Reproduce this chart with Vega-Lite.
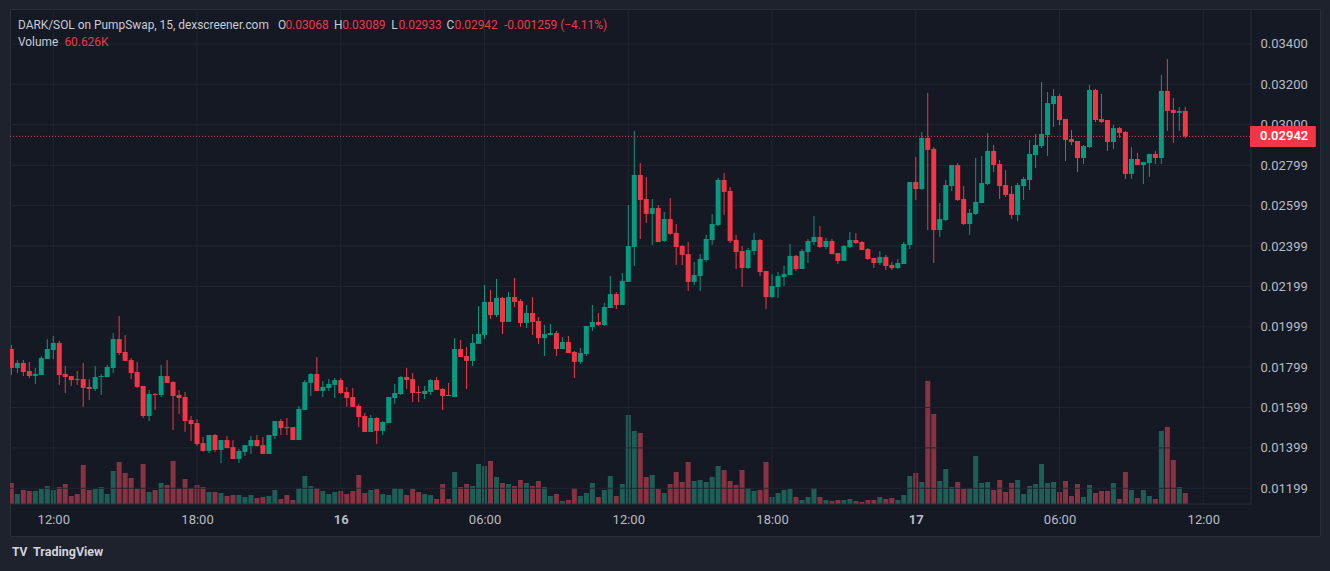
{
  "$schema": "https://vega.github.io/schema/vega-lite/v6.json",
  "width": 1310,
  "height": 527,
  "autosize": {"type": "none"},
  "padding": {"left": 10, "top": 9, "right": 10, "bottom": 35},
  "background": "#1e222d",
  "config": {
    "font": "Roboto",
    "view": {"fill": "#151924", "stroke": "#2a2e39", "strokeWidth": 1}
  },
  "resolve": {"scale": {"y": "independent"}},
  "datasets": {
    "candles": [
      {"t":"2025-06-15T10:15","o":0.01889,"h":0.01909,"l":0.01760,"c":0.01795,"v":115.5},
      {"t":"2025-06-15T10:30","o":0.01795,"h":0.01834,"l":0.01770,"c":0.01820,"v":55},
      {"t":"2025-06-15T10:45","o":0.01820,"h":0.01834,"l":0.01755,"c":0.01775,"v":77},
      {"t":"2025-06-15T11:00","o":0.01780,"h":0.01825,"l":0.01745,"c":0.01755,"v":71.5},
      {"t":"2025-06-15T11:15","o":0.01755,"h":0.01795,"l":0.01716,"c":0.01765,"v":71.5},
      {"t":"2025-06-15T11:30","o":0.01760,"h":0.01854,"l":0.01760,"c":0.01844,"v":82.5},
      {"t":"2025-06-15T11:45","o":0.01839,"h":0.01938,"l":0.01839,"c":0.01889,"v":99},
      {"t":"2025-06-15T12:00","o":0.01884,"h":0.01953,"l":0.01839,"c":0.01919,"v":77},
      {"t":"2025-06-15T12:15","o":0.01919,"h":0.01929,"l":0.01711,"c":0.01760,"v":93.5},
      {"t":"2025-06-15T12:30","o":0.01765,"h":0.01805,"l":0.01671,"c":0.01750,"v":110},
      {"t":"2025-06-15T12:45","o":0.01755,"h":0.01755,"l":0.01706,"c":0.01735,"v":44},
      {"t":"2025-06-15T13:00","o":0.01740,"h":0.01780,"l":0.01711,"c":0.01735,"v":55},
      {"t":"2025-06-15T13:15","o":0.01740,"h":0.01820,"l":0.01602,"c":0.01696,"v":214.5},
      {"t":"2025-06-15T13:30","o":0.01701,"h":0.01740,"l":0.01636,"c":0.01691,"v":77},
      {"t":"2025-06-15T13:45","o":0.01691,"h":0.01805,"l":0.01681,"c":0.01750,"v":82.5},
      {"t":"2025-06-15T14:00","o":0.01750,"h":0.01765,"l":0.01661,"c":0.01755,"v":93.5},
      {"t":"2025-06-15T14:15","o":0.01750,"h":0.01810,"l":0.01750,"c":0.01800,"v":55},
      {"t":"2025-06-15T14:30","o":0.01795,"h":0.01968,"l":0.01770,"c":0.01938,"v":181.5},
      {"t":"2025-06-15T14:45","o":0.01938,"h":0.02052,"l":0.01859,"c":0.01869,"v":231},
      {"t":"2025-06-15T15:00","o":0.01874,"h":0.01958,"l":0.01830,"c":0.01830,"v":170.5},
      {"t":"2025-06-15T15:15","o":0.01834,"h":0.01844,"l":0.01740,"c":0.01770,"v":143},
      {"t":"2025-06-15T15:30","o":0.01775,"h":0.01825,"l":0.01696,"c":0.01701,"v":82.5},
      {"t":"2025-06-15T15:45","o":0.01706,"h":0.01706,"l":0.01547,"c":0.01557,"v":220},
      {"t":"2025-06-15T16:00","o":0.01557,"h":0.01686,"l":0.01532,"c":0.01666,"v":66},
      {"t":"2025-06-15T16:15","o":0.01666,"h":0.01671,"l":0.01587,"c":0.01661,"v":77},
      {"t":"2025-06-15T16:30","o":0.01661,"h":0.01810,"l":0.01651,"c":0.01755,"v":115.5},
      {"t":"2025-06-15T16:45","o":0.01755,"h":0.01834,"l":0.01721,"c":0.01721,"v":104.5},
      {"t":"2025-06-15T17:00","o":0.01725,"h":0.01730,"l":0.01488,"c":0.01656,"v":236.5},
      {"t":"2025-06-15T17:15","o":0.01661,"h":0.01686,"l":0.01567,"c":0.01646,"v":82.5},
      {"t":"2025-06-15T17:30","o":0.01651,"h":0.01676,"l":0.01478,"c":0.01532,"v":137.5},
      {"t":"2025-06-15T17:45","o":0.01537,"h":0.01557,"l":0.01433,"c":0.01517,"v":88},
      {"t":"2025-06-15T18:00","o":0.01522,"h":0.01542,"l":0.01409,"c":0.01418,"v":104.5},
      {"t":"2025-06-15T18:15","o":0.01423,"h":0.01453,"l":0.01379,"c":0.01384,"v":93.5},
      {"t":"2025-06-15T18:30","o":0.01384,"h":0.01463,"l":0.01374,"c":0.01463,"v":66},
      {"t":"2025-06-15T18:45","o":0.01463,"h":0.01468,"l":0.01379,"c":0.01389,"v":66},
      {"t":"2025-06-15T19:00","o":0.01389,"h":0.01438,"l":0.01324,"c":0.01438,"v":60.5},
      {"t":"2025-06-15T19:15","o":0.01438,"h":0.01458,"l":0.01398,"c":0.01398,"v":44},
      {"t":"2025-06-15T19:30","o":0.01403,"h":0.01438,"l":0.01344,"c":0.01344,"v":49.5},
      {"t":"2025-06-15T19:45","o":0.01344,"h":0.01394,"l":0.01324,"c":0.01384,"v":49.5},
      {"t":"2025-06-15T20:00","o":0.01379,"h":0.01413,"l":0.01359,"c":0.01413,"v":38.5},
      {"t":"2025-06-15T20:15","o":0.01408,"h":0.01458,"l":0.01369,"c":0.01438,"v":49.5},
      {"t":"2025-06-15T20:30","o":0.01438,"h":0.01463,"l":0.01408,"c":0.01408,"v":33},
      {"t":"2025-06-15T20:45","o":0.01413,"h":0.01453,"l":0.01369,"c":0.01369,"v":38.5},
      {"t":"2025-06-15T21:00","o":0.01369,"h":0.01463,"l":0.01369,"c":0.01463,"v":44},
      {"t":"2025-06-15T21:15","o":0.01458,"h":0.01532,"l":0.01443,"c":0.01532,"v":77},
      {"t":"2025-06-15T21:30","o":0.01532,"h":0.01542,"l":0.01463,"c":0.01497,"v":27.5},
      {"t":"2025-06-15T21:45","o":0.01502,"h":0.01547,"l":0.01463,"c":0.01497,"v":49.5},
      {"t":"2025-06-15T22:00","o":0.01502,"h":0.01502,"l":0.01438,"c":0.01438,"v":22},
      {"t":"2025-06-15T22:15","o":0.01438,"h":0.01607,"l":0.01438,"c":0.01592,"v":88},
      {"t":"2025-06-15T22:30","o":0.01587,"h":0.01735,"l":0.01587,"c":0.01725,"v":154},
      {"t":"2025-06-15T22:45","o":0.01721,"h":0.01770,"l":0.01656,"c":0.01765,"v":99},
      {"t":"2025-06-15T23:00","o":0.01765,"h":0.01849,"l":0.01681,"c":0.01681,"v":88},
      {"t":"2025-06-15T23:15","o":0.01681,"h":0.01730,"l":0.01651,"c":0.01701,"v":71.5},
      {"t":"2025-06-15T23:30","o":0.01696,"h":0.01740,"l":0.01681,"c":0.01716,"v":55},
      {"t":"2025-06-15T23:45","o":0.01711,"h":0.01745,"l":0.01646,"c":0.01735,"v":66},
      {"t":"2025-06-16T00:00","o":0.01735,"h":0.01745,"l":0.01666,"c":0.01671,"v":71.5},
      {"t":"2025-06-16T00:15","o":0.01676,"h":0.01701,"l":0.01602,"c":0.01646,"v":55},
      {"t":"2025-06-16T00:30","o":0.01651,"h":0.01696,"l":0.01602,"c":0.01602,"v":71.5},
      {"t":"2025-06-16T00:45","o":0.01607,"h":0.01617,"l":0.01502,"c":0.01552,"v":159.5},
      {"t":"2025-06-16T01:00","o":0.01557,"h":0.01572,"l":0.01478,"c":0.01478,"v":60.5},
      {"t":"2025-06-16T01:15","o":0.01478,"h":0.01562,"l":0.01478,"c":0.01547,"v":77},
      {"t":"2025-06-16T01:30","o":0.01547,"h":0.01552,"l":0.01418,"c":0.01483,"v":82.5},
      {"t":"2025-06-16T01:45","o":0.01483,"h":0.01532,"l":0.01463,"c":0.01527,"v":55},
      {"t":"2025-06-16T02:00","o":0.01522,"h":0.01651,"l":0.01522,"c":0.01651,"v":49.5},
      {"t":"2025-06-16T02:15","o":0.01646,"h":0.01716,"l":0.01617,"c":0.01671,"v":88},
      {"t":"2025-06-16T02:30","o":0.01666,"h":0.01755,"l":0.01661,"c":0.01750,"v":82.5},
      {"t":"2025-06-16T02:45","o":0.01750,"h":0.01795,"l":0.01691,"c":0.01735,"v":49.5},
      {"t":"2025-06-16T03:00","o":0.01740,"h":0.01770,"l":0.01626,"c":0.01671,"v":82.5},
      {"t":"2025-06-16T03:15","o":0.01676,"h":0.01706,"l":0.01626,"c":0.01671,"v":66},
      {"t":"2025-06-16T03:30","o":0.01666,"h":0.01706,"l":0.01641,"c":0.01681,"v":55},
      {"t":"2025-06-16T03:45","o":0.01676,"h":0.01740,"l":0.01661,"c":0.01735,"v":49.5},
      {"t":"2025-06-16T04:00","o":0.01735,"h":0.01750,"l":0.01686,"c":0.01686,"v":27.5},
      {"t":"2025-06-16T04:15","o":0.01691,"h":0.01696,"l":0.01587,"c":0.01656,"v":110},
      {"t":"2025-06-16T04:30","o":0.01661,"h":0.01721,"l":0.01656,"c":0.01656,"v":27.5},
      {"t":"2025-06-16T04:45","o":0.01651,"h":0.01943,"l":0.01651,"c":0.01889,"v":176},
      {"t":"2025-06-16T05:00","o":0.01889,"h":0.01934,"l":0.01849,"c":0.01849,"v":93.5},
      {"t":"2025-06-16T05:15","o":0.01854,"h":0.01899,"l":0.01691,"c":0.01830,"v":110},
      {"t":"2025-06-16T05:30","o":0.01830,"h":0.01963,"l":0.01805,"c":0.01919,"v":99},
      {"t":"2025-06-16T05:45","o":0.01914,"h":0.02102,"l":0.01914,"c":0.01963,"v":220},
      {"t":"2025-06-16T06:00","o":0.01958,"h":0.02206,"l":0.01938,"c":0.02122,"v":209},
      {"t":"2025-06-16T06:15","o":0.02122,"h":0.02181,"l":0.02037,"c":0.02057,"v":236.5},
      {"t":"2025-06-16T06:30","o":0.02057,"h":0.02236,"l":0.02047,"c":0.02142,"v":148.5},
      {"t":"2025-06-16T06:45","o":0.02142,"h":0.02146,"l":0.01963,"c":0.02023,"v":115.5},
      {"t":"2025-06-16T07:00","o":0.02023,"h":0.02171,"l":0.02023,"c":0.02146,"v":110},
      {"t":"2025-06-16T07:15","o":0.02146,"h":0.02241,"l":0.02097,"c":0.02122,"v":99},
      {"t":"2025-06-16T07:30","o":0.02127,"h":0.02137,"l":0.01998,"c":0.02018,"v":132},
      {"t":"2025-06-16T07:45","o":0.02018,"h":0.02107,"l":0.01993,"c":0.02067,"v":115.5},
      {"t":"2025-06-16T08:00","o":0.02067,"h":0.02146,"l":0.01958,"c":0.02023,"v":99},
      {"t":"2025-06-16T08:15","o":0.02028,"h":0.02047,"l":0.01914,"c":0.01943,"v":126.5},
      {"t":"2025-06-16T08:30","o":0.01943,"h":0.02008,"l":0.01854,"c":0.01963,"v":93.5},
      {"t":"2025-06-16T08:45","o":0.01958,"h":0.02013,"l":0.01958,"c":0.01968,"v":44},
      {"t":"2025-06-16T09:00","o":0.01968,"h":0.01978,"l":0.01854,"c":0.01889,"v":55},
      {"t":"2025-06-16T09:15","o":0.01889,"h":0.01948,"l":0.01889,"c":0.01924,"v":16.5},
      {"t":"2025-06-16T09:30","o":0.01924,"h":0.01953,"l":0.01869,"c":0.01869,"v":22},
      {"t":"2025-06-16T09:45","o":0.01874,"h":0.01879,"l":0.01745,"c":0.01825,"v":88},
      {"t":"2025-06-16T10:00","o":0.01825,"h":0.01894,"l":0.01815,"c":0.01869,"v":44},
      {"t":"2025-06-16T10:15","o":0.01864,"h":0.02003,"l":0.01854,"c":0.02003,"v":60.5},
      {"t":"2025-06-16T10:30","o":0.01998,"h":0.02107,"l":0.01978,"c":0.02023,"v":115.5},
      {"t":"2025-06-16T10:45","o":0.02023,"h":0.02067,"l":0.02003,"c":0.02008,"v":38.5},
      {"t":"2025-06-16T11:00","o":0.02008,"h":0.02117,"l":0.02003,"c":0.02097,"v":77},
      {"t":"2025-06-16T11:15","o":0.02092,"h":0.02251,"l":0.02092,"c":0.02161,"v":154},
      {"t":"2025-06-16T11:30","o":0.02161,"h":0.02171,"l":0.02087,"c":0.02107,"v":44},
      {"t":"2025-06-16T11:45","o":0.02107,"h":0.02265,"l":0.02107,"c":0.02226,"v":110},
      {"t":"2025-06-16T12:00","o":0.02221,"h":0.02602,"l":0.02221,"c":0.02399,"v":489.5},
      {"t":"2025-06-16T12:15","o":0.02394,"h":0.02969,"l":0.02300,"c":0.02751,"v":401.5},
      {"t":"2025-06-16T12:30","o":0.02751,"h":0.02810,"l":0.02434,"c":0.02627,"v":390.5},
      {"t":"2025-06-16T12:45","o":0.02632,"h":0.02741,"l":0.02513,"c":0.02558,"v":148.5},
      {"t":"2025-06-16T13:00","o":0.02558,"h":0.02632,"l":0.02404,"c":0.02587,"v":159.5},
      {"t":"2025-06-16T13:15","o":0.02587,"h":0.02602,"l":0.02419,"c":0.02419,"v":82.5},
      {"t":"2025-06-16T13:30","o":0.02424,"h":0.02568,"l":0.02419,"c":0.02533,"v":60.5},
      {"t":"2025-06-16T13:45","o":0.02533,"h":0.02637,"l":0.02454,"c":0.02459,"v":110},
      {"t":"2025-06-16T14:00","o":0.02464,"h":0.02508,"l":0.02305,"c":0.02394,"v":176},
      {"t":"2025-06-16T14:15","o":0.02399,"h":0.02404,"l":0.02305,"c":0.02355,"v":121},
      {"t":"2025-06-16T14:30","o":0.02359,"h":0.02419,"l":0.02176,"c":0.02221,"v":231},
      {"t":"2025-06-16T14:45","o":0.02221,"h":0.02320,"l":0.02206,"c":0.02255,"v":126.5},
      {"t":"2025-06-16T15:00","o":0.02250,"h":0.02359,"l":0.02176,"c":0.02335,"v":132},
      {"t":"2025-06-16T15:15","o":0.02330,"h":0.02454,"l":0.02320,"c":0.02434,"v":121},
      {"t":"2025-06-16T15:30","o":0.02429,"h":0.02558,"l":0.02404,"c":0.02508,"v":148.5},
      {"t":"2025-06-16T15:45","o":0.02503,"h":0.02736,"l":0.02498,"c":0.02726,"v":209},
      {"t":"2025-06-16T16:00","o":0.02726,"h":0.02761,"l":0.02553,"c":0.02667,"v":187},
      {"t":"2025-06-16T16:15","o":0.02672,"h":0.02691,"l":0.02414,"c":0.02424,"v":126.5},
      {"t":"2025-06-16T16:30","o":0.02429,"h":0.02454,"l":0.02285,"c":0.02369,"v":104.5},
      {"t":"2025-06-16T16:45","o":0.02374,"h":0.02399,"l":0.02196,"c":0.02290,"v":187},
      {"t":"2025-06-16T17:00","o":0.02290,"h":0.02389,"l":0.02285,"c":0.02379,"v":88},
      {"t":"2025-06-16T17:15","o":0.02374,"h":0.02464,"l":0.02355,"c":0.02429,"v":71.5},
      {"t":"2025-06-16T17:30","o":0.02429,"h":0.02434,"l":0.02250,"c":0.02270,"v":77},
      {"t":"2025-06-16T17:45","o":0.02275,"h":0.02275,"l":0.02087,"c":0.02146,"v":231},
      {"t":"2025-06-16T18:00","o":0.02146,"h":0.02260,"l":0.02142,"c":0.02201,"v":38.5},
      {"t":"2025-06-16T18:15","o":0.02196,"h":0.02270,"l":0.02142,"c":0.02250,"v":60.5},
      {"t":"2025-06-16T18:30","o":0.02245,"h":0.02300,"l":0.02201,"c":0.02260,"v":77},
      {"t":"2025-06-16T18:45","o":0.02255,"h":0.02409,"l":0.02255,"c":0.02350,"v":82.5},
      {"t":"2025-06-16T19:00","o":0.02350,"h":0.02355,"l":0.02275,"c":0.02285,"v":38.5},
      {"t":"2025-06-16T19:15","o":0.02285,"h":0.02384,"l":0.02285,"c":0.02374,"v":22},
      {"t":"2025-06-16T19:30","o":0.02369,"h":0.02434,"l":0.02315,"c":0.02424,"v":38.5},
      {"t":"2025-06-16T19:45","o":0.02419,"h":0.02548,"l":0.02404,"c":0.02444,"v":88},
      {"t":"2025-06-16T20:00","o":0.02444,"h":0.02498,"l":0.02389,"c":0.02394,"v":38.5},
      {"t":"2025-06-16T20:15","o":0.02394,"h":0.02439,"l":0.02384,"c":0.02424,"v":22},
      {"t":"2025-06-16T20:30","o":0.02424,"h":0.02434,"l":0.02359,"c":0.02359,"v":16.5},
      {"t":"2025-06-16T20:45","o":0.02364,"h":0.02364,"l":0.02310,"c":0.02325,"v":22},
      {"t":"2025-06-16T21:00","o":0.02325,"h":0.02404,"l":0.02325,"c":0.02399,"v":22},
      {"t":"2025-06-16T21:15","o":0.02394,"h":0.02469,"l":0.02389,"c":0.02429,"v":27.5},
      {"t":"2025-06-16T21:30","o":0.02429,"h":0.02464,"l":0.02409,"c":0.02414,"v":16.5},
      {"t":"2025-06-16T21:45","o":0.02419,"h":0.02424,"l":0.02379,"c":0.02379,"v":11},
      {"t":"2025-06-16T22:00","o":0.02384,"h":0.02389,"l":0.02330,"c":0.02335,"v":22},
      {"t":"2025-06-16T22:15","o":0.02340,"h":0.02340,"l":0.02290,"c":0.02315,"v":22},
      {"t":"2025-06-16T22:30","o":0.02315,"h":0.02374,"l":0.02305,"c":0.02345,"v":38.5},
      {"t":"2025-06-16T22:45","o":0.02345,"h":0.02355,"l":0.02280,"c":0.02300,"v":27.5},
      {"t":"2025-06-16T23:00","o":0.02305,"h":0.02320,"l":0.02280,"c":0.02290,"v":33},
      {"t":"2025-06-16T23:15","o":0.02290,"h":0.02335,"l":0.02285,"c":0.02315,"v":22},
      {"t":"2025-06-16T23:30","o":0.02310,"h":0.02419,"l":0.02310,"c":0.02409,"v":49.5},
      {"t":"2025-06-16T23:45","o":0.02404,"h":0.02716,"l":0.02384,"c":0.02716,"v":154},
      {"t":"2025-06-17T00:00","o":0.02716,"h":0.02840,"l":0.02627,"c":0.02681,"v":170.5},
      {"t":"2025-06-17T00:15","o":0.02681,"h":0.02964,"l":0.02676,"c":0.02934,"v":121},
      {"t":"2025-06-17T00:30","o":0.02934,"h":0.03157,"l":0.02478,"c":0.02875,"v":676.5},
      {"t":"2025-06-17T00:45","o":0.02880,"h":0.02889,"l":0.02315,"c":0.02478,"v":495},
      {"t":"2025-06-17T01:00","o":0.02478,"h":0.02612,"l":0.02444,"c":0.02533,"v":126.5},
      {"t":"2025-06-17T01:15","o":0.02528,"h":0.02726,"l":0.02523,"c":0.02701,"v":192.5},
      {"t":"2025-06-17T01:30","o":0.02696,"h":0.02800,"l":0.02671,"c":0.02800,"v":93.5},
      {"t":"2025-06-17T01:45","o":0.02800,"h":0.02810,"l":0.02622,"c":0.02627,"v":121},
      {"t":"2025-06-17T02:00","o":0.02632,"h":0.02696,"l":0.02503,"c":0.02508,"v":82.5},
      {"t":"2025-06-17T02:15","o":0.02508,"h":0.02582,"l":0.02454,"c":0.02563,"v":88},
      {"t":"2025-06-17T02:30","o":0.02558,"h":0.02835,"l":0.02553,"c":0.02617,"v":264},
      {"t":"2025-06-17T02:45","o":0.02612,"h":0.02845,"l":0.02612,"c":0.02711,"v":115.5},
      {"t":"2025-06-17T03:00","o":0.02706,"h":0.02959,"l":0.02701,"c":0.02870,"v":121},
      {"t":"2025-06-17T03:15","o":0.02870,"h":0.02899,"l":0.02766,"c":0.02800,"v":77},
      {"t":"2025-06-17T03:30","o":0.02805,"h":0.02825,"l":0.02632,"c":0.02696,"v":132},
      {"t":"2025-06-17T03:45","o":0.02701,"h":0.02775,"l":0.02642,"c":0.02652,"v":66},
      {"t":"2025-06-17T04:00","o":0.02657,"h":0.02696,"l":0.02533,"c":0.02553,"v":115.5},
      {"t":"2025-06-17T04:15","o":0.02553,"h":0.02711,"l":0.02523,"c":0.02701,"v":132},
      {"t":"2025-06-17T04:30","o":0.02696,"h":0.02741,"l":0.02627,"c":0.02731,"v":55},
      {"t":"2025-06-17T04:45","o":0.02726,"h":0.02924,"l":0.02676,"c":0.02855,"v":99},
      {"t":"2025-06-17T05:00","o":0.02850,"h":0.02954,"l":0.02785,"c":0.02899,"v":110},
      {"t":"2025-06-17T05:15","o":0.02894,"h":0.03211,"l":0.02884,"c":0.02954,"v":220},
      {"t":"2025-06-17T05:30","o":0.02949,"h":0.03162,"l":0.02845,"c":0.03107,"v":115.5},
      {"t":"2025-06-17T05:45","o":0.03102,"h":0.03177,"l":0.02989,"c":0.03142,"v":121},
      {"t":"2025-06-17T06:00","o":0.03142,"h":0.03152,"l":0.02998,"c":0.03023,"v":66},
      {"t":"2025-06-17T06:15","o":0.03028,"h":0.03028,"l":0.02820,"c":0.02924,"v":126.5},
      {"t":"2025-06-17T06:30","o":0.02929,"h":0.02974,"l":0.02899,"c":0.02914,"v":44},
      {"t":"2025-06-17T06:45","o":0.02919,"h":0.02919,"l":0.02766,"c":0.02835,"v":110},
      {"t":"2025-06-17T07:00","o":0.02835,"h":0.02899,"l":0.02805,"c":0.02894,"v":38.5},
      {"t":"2025-06-17T07:15","o":0.02889,"h":0.03197,"l":0.02884,"c":0.03172,"v":104.5},
      {"t":"2025-06-17T07:30","o":0.03172,"h":0.03177,"l":0.03013,"c":0.03023,"v":60.5},
      {"t":"2025-06-17T07:45","o":0.03028,"h":0.03152,"l":0.03008,"c":0.03013,"v":71.5},
      {"t":"2025-06-17T08:00","o":0.03023,"h":0.03023,"l":0.02870,"c":0.02914,"v":71.5},
      {"t":"2025-06-17T08:15","o":0.02914,"h":0.02998,"l":0.02880,"c":0.02983,"v":115.5},
      {"t":"2025-06-17T08:30","o":0.02983,"h":0.02989,"l":0.02934,"c":0.02959,"v":27.5},
      {"t":"2025-06-17T08:45","o":0.02964,"h":0.02969,"l":0.02731,"c":0.02756,"v":176},
      {"t":"2025-06-17T09:00","o":0.02756,"h":0.02889,"l":0.02731,"c":0.02830,"v":77},
      {"t":"2025-06-17T09:15","o":0.02830,"h":0.02860,"l":0.02800,"c":0.02800,"v":33},
      {"t":"2025-06-17T09:30","o":0.02800,"h":0.02815,"l":0.02706,"c":0.02815,"v":77},
      {"t":"2025-06-17T09:45","o":0.02810,"h":0.02855,"l":0.02741,"c":0.02855,"v":44},
      {"t":"2025-06-17T10:00","o":0.02855,"h":0.02870,"l":0.02805,"c":0.02835,"v":27.5},
      {"t":"2025-06-17T10:15","o":0.02835,"h":0.03246,"l":0.02805,"c":0.03167,"v":401.5},
      {"t":"2025-06-17T10:30","o":0.03167,"h":0.03325,"l":0.02969,"c":0.03068,"v":423.5},
      {"t":"2025-06-17T10:45","o":0.03073,"h":0.03132,"l":0.02909,"c":0.03058,"v":242},
      {"t":"2025-06-17T11:00","o":0.03058,"h":0.03087,"l":0.02969,"c":0.03068,"v":93.5},
      {"t":"2025-06-17T11:15","o":0.03068,"h":0.03089,"l":0.02933,"c":0.02942,"v":60.626}
    ]
  },
  "layer": [
    {
      "data": {"name": "candles"},
      "mark": {"type": "bar", "width": 5, "clip": true},
      "encoding": {
        "x": {
          "field": "t",
          "type": "temporal",
          "scale": {"domain": [
            {"year": 2025, "month": 6, "date": 15, "hours": 10, "minutes": 11, "seconds": 36},
            {"year": 2025, "month": 6, "date": 17, "hours": 16, "minutes": 52, "seconds": 18}
          ], "padding": 0}
        },
        "y": {
          "field": "v",
          "type": "quantitative",
          "scale": {"domain": [-176, 2722.5], "nice": false, "zero": false, "padding": 0},
          "axis": null
        },
        "y2": {"datum": 0},
        "color": {"condition": {"test": "datum.c >= datum.o", "value": "#1d5f57"}, "value": "#883242"}
      }
    },
    {
      "layer": [
        {
          "data": {"values": [{"p": 0.034}, {"p": 0.032}, {"p": 0.030}, {"p": 0.02799}, {"p": 0.02599}, {"p": 0.02399}, {"p": 0.02199}, {"p": 0.01999}, {"p": 0.01799}, {"p": 0.01599}, {"p": 0.01399}, {"p": 0.01199}]},
          "mark": {"type": "rule", "color": "#232632", "strokeWidth": 1},
          "encoding": {
            "y": {"field": "p", "type": "quantitative", "scale": {"domain": [0.009627, 0.035729], "nice": false, "zero": false, "padding": 0}},
            "x": {"datum": {"year": 2025, "month": 6, "date": 15, "hours": 10, "minutes": 11, "seconds": 36}, "type": "temporal"},
            "x2": {"datum": {"year": 2025, "month": 6, "date": 17, "hours": 13, "minutes": 59, "seconds": 30}}
          }
        },
        {
          "data": {"values": [{"g": "2025-06-15T12:00"}, {"g": "2025-06-15T18:00"}, {"g": "2025-06-16T00:00"}, {"g": "2025-06-16T06:00"}, {"g": "2025-06-16T12:00"}, {"g": "2025-06-16T18:00"}, {"g": "2025-06-17T00:00"}, {"g": "2025-06-17T06:00"}, {"g": "2025-06-17T12:00"}]},
          "mark": {"type": "rule", "color": "#232632", "strokeWidth": 1},
          "encoding": {
            "x": {"field": "g", "type": "temporal"},
            "y": {"datum": 0.035729, "type": "quantitative"},
            "y2": {"datum": 0.011212}
          }
        },
        {
          "data": {"values": [{}]},
          "layer": [
            {
              "mark": {"type": "rule", "color": "#2a2e39", "strokeWidth": 1},
              "encoding": {
                "x": {"datum": {"year": 2025, "month": 6, "date": 17, "hours": 13, "minutes": 59, "seconds": 30}, "type": "temporal"},
                "y": {"datum": 0.035729, "type": "quantitative"},
                "y2": {"datum": 0.011212}
              }
            },
            {
              "mark": {"type": "rule", "color": "#2a2e39", "strokeWidth": 1},
              "encoding": {
                "x": {"datum": {"year": 2025, "month": 6, "date": 15, "hours": 10, "minutes": 11, "seconds": 36}, "type": "temporal"},
                "x2": {"datum": {"year": 2025, "month": 6, "date": 17, "hours": 13, "minutes": 59, "seconds": 30}},
                "y": {"datum": 0.011212, "type": "quantitative"}
              }
            }
          ]
        },
        {
          "data": {"name": "candles"},
          "mark": {"type": "rule", "strokeWidth": 1, "clip": true},
          "encoding": {
            "x": {
              "field": "t",
              "type": "temporal",
              "axis": {
                "orient": "bottom",
                "values": [
                  {"year": 2025, "month": 6, "date": 15, "hours": 12},
                  {"year": 2025, "month": 6, "date": 15, "hours": 18},
                  {"year": 2025, "month": 6, "date": 16, "hours": 0},
                  {"year": 2025, "month": 6, "date": 16, "hours": 6},
                  {"year": 2025, "month": 6, "date": 16, "hours": 12},
                  {"year": 2025, "month": 6, "date": 16, "hours": 18},
                  {"year": 2025, "month": 6, "date": 17, "hours": 0},
                  {"year": 2025, "month": 6, "date": 17, "hours": 6},
                  {"year": 2025, "month": 6, "date": 17, "hours": 12}
                ],
                "labelExpr": "hours(datum.value) == 0 ? '' + date(datum.value) : timeFormat(datum.value, '%H:%M')",
                "labelFontWeight": {"condition": {"test": "hours(datum.value) == 0", "value": "bold"}, "value": "normal"},
                "offset": -17,
                "grid": false,
                "ticks": false,
                "tickSize": 0,
                "domain": false,
                "labelPadding": 0,
                "labelBaseline": "middle",
                "labelFontSize": 13,
                "labelColor": "#b8bbc3",
                "labelFlush": false,
                "labelOverlap": false,
                "title": null
              }
            },
            "y": {
              "field": "l",
              "type": "quantitative",
              "axis": {
                "orient": "right",
                "values": [0.034, 0.032, 0.030, 0.02799, 0.02599, 0.02399, 0.02199, 0.01999, 0.01799, 0.01599, 0.01399, 0.01199],
                "format": ".5f",
                "offset": -60,
                "grid": false,
                "ticks": false,
                "tickSize": 0,
                "domain": false,
                "labelPadding": 0,
                "labelFontSize": 13,
                "labelColor": "#b8bbc3",
                "labelFlush": false,
                "labelOverlap": false,
                "title": null
              }
            },
            "y2": {"field": "h"},
            "color": {"condition": {"test": "datum.c >= datum.o", "value": "#089981"}, "value": "#f23645"}
          }
        },
        {
          "data": {"name": "candles"},
          "mark": {"type": "bar", "width": 5, "clip": true},
          "encoding": {
            "x": {"field": "t", "type": "temporal"},
            "y": {"field": "o", "type": "quantitative"},
            "y2": {"field": "c"},
            "color": {"condition": {"test": "datum.c >= datum.o", "value": "#089981"}, "value": "#f23645"}
          }
        },
        {
          "data": {"values": [{}]},
          "layer": [
            {
              "mark": {"type": "rule", "color": "#f23645", "strokeWidth": 1, "strokeDash": [1, 2]},
              "encoding": {
                "x": {"datum": {"year": 2025, "month": 6, "date": 15, "hours": 10, "minutes": 11, "seconds": 36}, "type": "temporal"},
                "x2": {"datum": {"year": 2025, "month": 6, "date": 17, "hours": 13, "minutes": 57}},
                "y": {"datum": 0.02942, "type": "quantitative"}
              }
            },
            {
              "mark": {"type": "rect", "color": "#f23645", "cornerRadius": 1},
              "encoding": {
                "x": {"datum": {"year": 2025, "month": 6, "date": 17, "hours": 13, "minutes": 57}, "type": "temporal"},
                "x2": {"datum": {"year": 2025, "month": 6, "date": 17, "hours": 16, "minutes": 42}},
                "y": {"datum": 0.02993, "type": "quantitative"},
                "y2": {"datum": 0.02889}
              }
            },
            {
              "mark": {"type": "text", "text": "0.02942", "align": "left", "baseline": "middle", "fontSize": 13, "fontWeight": 600, "color": "#ffffff"},
              "encoding": {
                "x": {"datum": {"year": 2025, "month": 6, "date": 17, "hours": 14, "minutes": 22}, "type": "temporal"},
                "y": {"datum": 0.02942, "type": "quantitative"}
              }
            }
          ]
        },
        {
          "data": {"values": [{}]},
          "encoding": {
            "x": {"datum": {"year": 2025, "month": 6, "date": 15, "hours": 10, "minutes": 31, "seconds": 36}, "type": "temporal"},
            "y": {"datum": 0.034937, "type": "quantitative"}
          },
          "layer": [
            {"mark": {"type": "text", "text": "DARK/SOL on PumpSwap, 15, dexscreener.com", "align": "left", "baseline": "middle", "fontSize": 11.9, "color": "#c8cbd3"}},
            {"mark": {"type": "text", "text": "O", "dx": 260, "align": "left", "baseline": "middle", "fontSize": 11.9, "color": "#c8cbd3"}},
            {"mark": {"type": "text", "text": "0.03068", "dx": 267.4, "align": "left", "baseline": "middle", "fontSize": 11.9, "color": "#f23645"}},
            {"mark": {"type": "text", "text": "H", "dx": 316, "align": "left", "baseline": "middle", "fontSize": 11.9, "color": "#c8cbd3"}},
            {"mark": {"type": "text", "text": "0.03089", "dx": 324.3, "align": "left", "baseline": "middle", "fontSize": 11.9, "color": "#f23645"}},
            {"mark": {"type": "text", "text": "L", "dx": 373.3, "align": "left", "baseline": "middle", "fontSize": 11.9, "color": "#c8cbd3"}},
            {"mark": {"type": "text", "text": "0.02933", "dx": 380.4, "align": "left", "baseline": "middle", "fontSize": 11.9, "color": "#f23645"}},
            {"mark": {"type": "text", "text": "C", "dx": 428.6, "align": "left", "baseline": "middle", "fontSize": 11.9, "color": "#c8cbd3"}},
            {"mark": {"type": "text", "text": "0.02942", "dx": 436.5, "align": "left", "baseline": "middle", "fontSize": 11.9, "color": "#f23645"}},
            {"mark": {"type": "text", "text": "-0.001259 (−4.11%)", "dx": 486, "align": "left", "baseline": "middle", "fontSize": 11.9, "color": "#f23645"}}
          ]
        },
        {
          "data": {"values": [{}]},
          "encoding": {
            "x": {"datum": {"year": 2025, "month": 6, "date": 15, "hours": 10, "minutes": 31, "seconds": 36}, "type": "temporal"},
            "y": {"datum": 0.034095, "type": "quantitative"}
          },
          "layer": [
            {"mark": {"type": "text", "text": "Volume", "align": "left", "baseline": "middle", "fontSize": 11.9, "color": "#c8cbd3"}},
            {"mark": {"type": "text", "text": "60.626K", "dx": 46.4, "align": "left", "baseline": "middle", "fontSize": 11.9, "color": "#f23645"}}
          ]
        },
        {
          "data": {"values": [{}]},
          "encoding": {
            "y": {"datum": 0.008835, "type": "quantitative"}
          },
          "layer": [
            {
              "mark": {"type": "text", "text": "TV", "align": "left", "baseline": "middle", "fontSize": 12, "fontWeight": "bold", "color": "#d1d4dc"},
              "encoding": {"x": {"datum": {"year": 2025, "month": 6, "date": 15, "hours": 10, "minutes": 16, "seconds": 36}, "type": "temporal"}}
            },
            {
              "mark": {"type": "text", "text": "TradingView", "align": "left", "baseline": "middle", "fontSize": 12.5, "fontWeight": "bold", "color": "#d1d4dc"},
              "encoding": {"x": {"datum": {"year": 2025, "month": 6, "date": 15, "hours": 11, "minutes": 9, "seconds": 12}, "type": "temporal"}}
            }
          ]
        }
      ]
    }
  ]
}
